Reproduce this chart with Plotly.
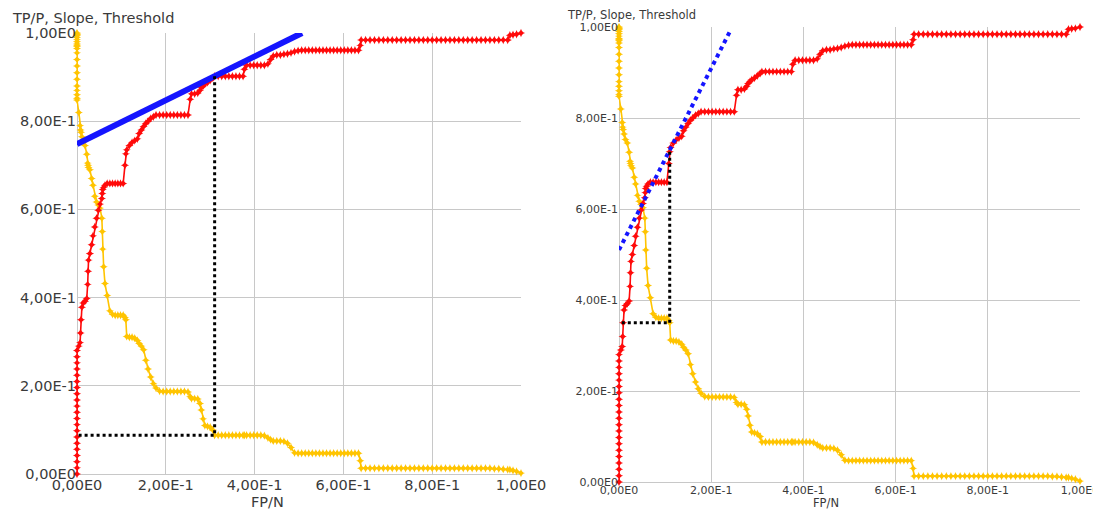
import plotly.graph_objects as go

# ---------------- data ----------------
fp = [
    0.000, 0.000, 0.000, 0.000, 0.000, 0.000, 0.000,
    0.000, 0.000, 0.000, 0.000, 0.000, 0.000, 0.000,
    0.000, 0.000, 0.000, 0.000, 0.000, 0.000, 0.000,
    0.004, 0.007, 0.008, 0.009, 0.011, 0.014, 0.018,
    0.022, 0.024, 0.025, 0.026, 0.029, 0.033, 0.036,
    0.040, 0.044, 0.048, 0.052, 0.056, 0.057, 0.058,
    0.060, 0.063, 0.068, 0.074, 0.080, 0.086, 0.092,
    0.098, 0.104, 0.108, 0.110, 0.112, 0.118, 0.124,
    0.130, 0.136, 0.140, 0.145, 0.150, 0.155, 0.160,
    0.166, 0.172, 0.178, 0.186, 0.194, 0.202, 0.210,
    0.218, 0.226, 0.234, 0.242, 0.250, 0.255, 0.258,
    0.265, 0.272, 0.277, 0.280, 0.284, 0.288, 0.294,
    0.300, 0.306, 0.310, 0.318, 0.326, 0.334, 0.342,
    0.350, 0.358, 0.366, 0.374, 0.377, 0.382, 0.390,
    0.398, 0.406, 0.414, 0.422, 0.430, 0.436, 0.442,
    0.450, 0.458, 0.466, 0.474, 0.482, 0.490, 0.498,
    0.506, 0.514, 0.522, 0.530, 0.538, 0.546, 0.554,
    0.562, 0.570, 0.578, 0.586, 0.594, 0.602, 0.610,
    0.618, 0.626, 0.634, 0.638, 0.640, 0.650, 0.660,
    0.670, 0.680, 0.690, 0.700, 0.710, 0.720, 0.730,
    0.740, 0.750, 0.760, 0.770, 0.780, 0.790, 0.800,
    0.810, 0.820, 0.830, 0.840, 0.850, 0.860, 0.870,
    0.880, 0.890, 0.900, 0.910, 0.920, 0.930, 0.940,
    0.950, 0.960, 0.970, 0.975, 0.982, 0.990, 1.000,
]
tp = [
    0.000, 0.014, 0.028, 0.042, 0.056, 0.070, 0.084,
    0.098, 0.112, 0.126, 0.140, 0.154, 0.168, 0.182,
    0.196, 0.210, 0.224, 0.238, 0.252, 0.266, 0.280,
    0.290, 0.298, 0.320, 0.350, 0.378, 0.388, 0.392,
    0.398, 0.430, 0.460, 0.485, 0.500, 0.520, 0.540,
    0.560, 0.580, 0.598, 0.612, 0.625, 0.636, 0.645,
    0.650, 0.655, 0.659, 0.659, 0.659, 0.659, 0.659,
    0.659, 0.659, 0.700, 0.726, 0.735, 0.745, 0.752,
    0.756, 0.760, 0.772, 0.780, 0.788, 0.795, 0.800,
    0.806, 0.810, 0.814, 0.814, 0.814, 0.814, 0.814,
    0.814, 0.814, 0.814, 0.814, 0.814, 0.850, 0.862,
    0.862, 0.864, 0.870, 0.876, 0.880, 0.884, 0.888,
    0.893, 0.898, 0.902, 0.902, 0.902, 0.902, 0.902,
    0.902, 0.902, 0.902, 0.902, 0.918, 0.927, 0.927,
    0.927, 0.927, 0.927, 0.927, 0.930, 0.940, 0.948,
    0.950, 0.950, 0.952, 0.953, 0.955, 0.958, 0.960,
    0.961, 0.961, 0.961, 0.961, 0.961, 0.961, 0.961,
    0.961, 0.961, 0.961, 0.961, 0.961, 0.961, 0.961,
    0.961, 0.961, 0.961, 0.972, 0.984, 0.984, 0.984,
    0.984, 0.984, 0.984, 0.984, 0.984, 0.984, 0.984,
    0.984, 0.984, 0.984, 0.984, 0.984, 0.984, 0.984,
    0.984, 0.984, 0.984, 0.984, 0.984, 0.984, 0.984,
    0.984, 0.984, 0.984, 0.984, 0.984, 0.984, 0.984,
    0.984, 0.984, 0.984, 0.995, 0.996, 0.997, 1.000,
]
thr = [
    1.000, 0.998, 0.996, 0.994, 0.990, 0.985, 0.980,
    0.975, 0.972, 0.970, 0.965, 0.955, 0.940, 0.925,
    0.910, 0.895, 0.880, 0.870, 0.860, 0.852, 0.848,
    0.820, 0.790, 0.780, 0.775, 0.765, 0.753, 0.745,
    0.725, 0.705, 0.700, 0.695, 0.690, 0.670, 0.655,
    0.630, 0.617, 0.610, 0.603, 0.580, 0.550, 0.510,
    0.470, 0.432, 0.405, 0.370, 0.362, 0.360, 0.360,
    0.360, 0.360, 0.355, 0.350, 0.312, 0.310, 0.310,
    0.308, 0.303, 0.296, 0.290, 0.282, 0.258, 0.238,
    0.220, 0.205, 0.195, 0.188, 0.187, 0.187, 0.187,
    0.187, 0.187, 0.187, 0.187, 0.186, 0.175, 0.171,
    0.171, 0.170, 0.160, 0.145, 0.125, 0.110, 0.108,
    0.106, 0.100, 0.088, 0.088, 0.088, 0.088, 0.088,
    0.088, 0.088, 0.088, 0.088, 0.088, 0.088, 0.088,
    0.088, 0.088, 0.088, 0.087, 0.082, 0.078, 0.075,
    0.075, 0.075, 0.074, 0.070, 0.060, 0.048, 0.047,
    0.047, 0.047, 0.047, 0.047, 0.047, 0.047, 0.047,
    0.047, 0.047, 0.047, 0.047, 0.047, 0.047, 0.047,
    0.047, 0.047, 0.047, 0.030, 0.013, 0.013, 0.013,
    0.013, 0.013, 0.013, 0.013, 0.013, 0.013, 0.013,
    0.013, 0.013, 0.013, 0.013, 0.013, 0.013, 0.013,
    0.013, 0.013, 0.013, 0.013, 0.013, 0.013, 0.013,
    0.013, 0.013, 0.013, 0.013, 0.013, 0.013, 0.012,
    0.012, 0.011, 0.010, 0.010, 0.008, 0.006, 0.002,
]

# slope (tangent) lines: endpoints
slope_left_x = [0.000, 0.507]
slope_left_y = [0.748, 1.000]
slope_right_x = [0.000, 0.243]
slope_right_y = [0.510, 0.995]

# dotted guide lines (tangent point -> threshold)
guide_left_x = [0.310, 0.310, -0.020]
guide_left_y = [0.902, 0.088, 0.088]
guide_right_x = [0.110, 0.110, -0.020]
guide_right_y = [0.726, 0.350, 0.350]

tick_vals = [0.0, 0.2, 0.4, 0.6, 0.8, 1.0]
tick_text = ["0,00E0", "2,00E-1", "4,00E-1", "6,00E-1", "8,00E-1", "1,00E0"]

title_text = "TP/P, Slope, Threshold"
xlabel_text = "FP/N"

# ---------------- styles ----------------
RED = "#ff0a0a"
GOLD = "#ffc400"
BLUE = "#1515ff"
GRID = "#c8c8c8"
TXT = "#3a3a3a"
FONT = "DejaVu Sans"

fig = go.Figure()

panels = [
    ("x", "y", slope_left_x, slope_left_y, guide_left_x, guide_left_y, 6, "solid"),
    ("x2", "y2", slope_right_x, slope_right_y, guide_right_x, guide_right_y, 4, "dot"),
]
for xa, ya, sx, sy, gx, gy, bw, bdash in panels:
    fig.add_trace(go.Scatter(
        x=fp, y=thr, xaxis=xa, yaxis=ya, mode="lines+markers",
        line=dict(color=GOLD, width=1.6),
        marker=dict(symbol="star-diamond", size=6, color=GOLD),
        cliponaxis=False, showlegend=False, hoverinfo="skip"))
    fig.add_trace(go.Scatter(
        x=fp, y=tp, xaxis=xa, yaxis=ya, mode="lines+markers",
        line=dict(color=RED, width=1.6),
        marker=dict(symbol="star-diamond", size=6, color=RED),
        cliponaxis=False, showlegend=False, hoverinfo="skip"))
    fig.add_trace(go.Scatter(
        x=sx, y=sy, xaxis=xa, yaxis=ya, mode="lines",
        line=dict(color=BLUE, width=bw, dash=bdash),
        cliponaxis=False, showlegend=False, hoverinfo="skip"))
    fig.add_trace(go.Scatter(
        x=gx, y=gy, xaxis=xa, yaxis=ya, mode="lines",
        line=dict(color="black", width=3, dash="dot"),
        showlegend=False, hoverinfo="skip"))

W, H = 1093, 511


def axis(domain, anchor, size):
    return dict(
        domain=domain, anchor=anchor, range=[0, 1], autorange=False,
        automargin=False, ticklabeloverflow="allow",
        tickmode="array", tickvals=tick_vals, ticktext=tick_text,
        showgrid=True, gridcolor=GRID, gridwidth=1,
        zeroline=True, zerolinecolor=GRID, zerolinewidth=1,
        showline=False, ticks="",
        tickfont=dict(family=FONT, size=size, color=TXT),
        fixedrange=True,
    )


fig.update_layout(
    width=W, height=H, autosize=False,
    margin=dict(l=0, r=0, t=0, b=0, autoexpand=False),
    paper_bgcolor="white", plot_bgcolor="white",
    xaxis=axis([77 / W, 521 / W], "y", 14.5),
    yaxis=axis([(H - 474) / H, (H - 33) / H], "x", 14.5),
    xaxis2=axis([619 / W, 1080 / W], "y2", 11),
    yaxis2=axis([(H - 482) / H, (H - 27) / H], "x2", 11),
    annotations=[
        dict(text=title_text, xref="paper", yref="paper", x=10 / W, y=1 - 18 / H,
             xanchor="left", yanchor="middle", showarrow=False,
             font=dict(family=FONT, size=14.5, color=TXT)),
        dict(text=title_text, xref="paper", yref="paper", x=565 / W, y=1 - 15 / H,
             xanchor="left", yanchor="middle", showarrow=False,
             font=dict(family=FONT, size=11.5, color=TXT)),
        dict(text=xlabel_text, xref="paper", yref="paper", x=267 / W, y=1 - 502 / H,
             xanchor="center", yanchor="middle", showarrow=False,
             font=dict(family=FONT, size=14.5, color=TXT)),
        dict(text=xlabel_text, xref="paper", yref="paper", x=826 / W, y=1 - 503 / H,
             xanchor="center", yanchor="middle", showarrow=False,
             font=dict(family=FONT, size=11.5, color=TXT)),
    ],
)

fig.write_html("out.html")
